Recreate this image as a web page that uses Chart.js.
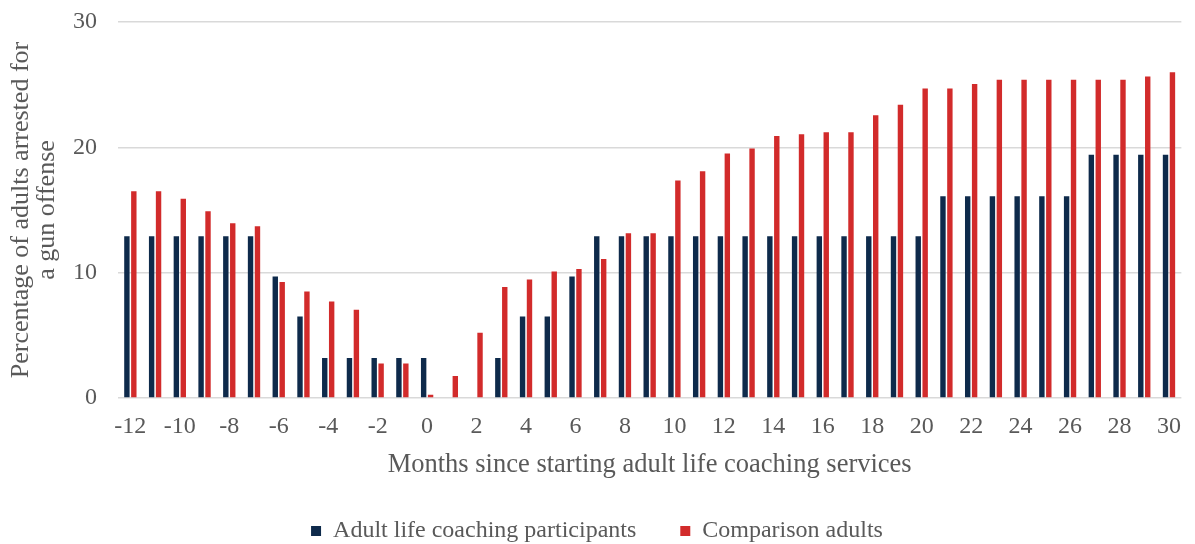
<!DOCTYPE html>
<html>
<head>
<meta charset="utf-8">
<script src="https://cdn.jsdelivr.net/npm/chart.js@4"></script>
<style>
  html, body { margin: 0; padding: 0; background: #fff; }
  #wrap { width: 1195px; height: 544px; }
</style>
</head>
<body>
<div id="wrap"><canvas id="chart" width="1195" height="544"></canvas></div>
<script>
// months since start, -12 .. 30
const months = [-12, -11, -10, -9, -8, -7, -6, -5, -4, -3, -2, -1, 0, 1, 2, 3, 4, 5, 6, 7, 8,
  9, 10, 11, 12, 13, 14, 15, 16, 17, 18, 19, 20, 21, 22, 23, 24, 25, 26, 27, 28, 29, 30];

// percentages
const participants = [12.9, 12.9, 12.9, 12.9, 12.9, 12.9, 9.7, 6.5, 3.2, 3.2, 3.2, 3.2, 3.2, 0, 0,
  3.2, 6.5, 6.5, 9.7, 12.9, 12.9, 12.9, 12.9, 12.9, 12.9, 12.9, 12.9, 12.9, 12.9, 12.9, 12.9,
  12.9, 12.9, 16.1, 16.1, 16.1, 16.1, 16.1, 16.1, 19.4, 19.4, 19.4, 19.4];
const comparison = [16.5, 16.5, 15.9, 14.9, 13.95, 13.7, 9.25, 8.5, 7.7, 7.05, 2.75, 2.75, 0.25,
  1.75, 5.2, 8.85, 9.45, 10.1, 10.3, 11.1, 13.15, 13.15, 17.35, 18.1, 19.5, 19.9, 20.9, 21.05,
  21.2, 21.2, 22.55, 23.4, 24.7, 24.7, 25.05, 25.4, 25.4, 25.4, 25.4, 25.4, 25.4, 25.65, 26.0];

const yTicks = [0, 10, 20, 30];

const grey = '#595959';
const font = 'Liberation Serif';

new Chart(document.getElementById('chart').getContext('2d'), {
  type: 'bar',
  data: {
    labels: months,
    datasets: [
      {
        label: 'Adult life coaching participants',
        data: participants,
        backgroundColor: '#0e2a4b',
        categoryPercentage: 0.56,
        barPercentage: 0.78
      },
      {
        label: 'Comparison adults',
        data: comparison,
        backgroundColor: '#d22b2b',
        categoryPercentage: 0.56,
        barPercentage: 0.78
      }
    ]
  },
  options: {
    responsive: false,
    animation: false,
    layout: { padding: { left: 0, right: 1, top: 0, bottom: -9 } },
    scales: {
      x: {
        grid: { display: false, drawTicks: false },
        border: { display: false },
        afterFit: function (scale) {
          scale.height = 101;
        },
        ticks: {
          autoSkip: false,
          maxRotation: 0,
          color: grey,
          font: { family: font, size: 24 },
          padding: 14,
          callback: function (val, i) {
            return i % 2 === 0 ? months[i] : '';
          }
        },
        title: {
          display: true,
          text: 'Months since starting adult life coaching services',
          color: grey,
          font: { family: font, size: 26.5 },
          padding: { top: 9, bottom: 18 }
        }
      },
      y: {
        min: 0,
        max: 30,
        afterBuildTicks: function (axis) {
          axis.ticks = yTicks.map(v => ({ value: v }));
        },
        afterFit: function (scale) {
          scale.width = 118;
          scale.paddingTop = 22;
          scale.paddingBottom = 0;
        },
        grid: { color: '#d9d9d9', lineWidth: 1.5, drawTicks: false },
        border: { display: false },
        ticks: {
          color: grey,
          font: { family: font, size: 24 },
          padding: 21
        },
        title: {
          display: true,
          text: ['Percentage of adults arrested for', 'a gun offense'],
          color: grey,
          font: { family: font, size: 26, lineHeight: 1.0 },
          padding: { top: 8, bottom: 0 }
        }
      }
    },
    plugins: {
      legend: {
        position: 'bottom',
        labels: {
          color: grey,
          font: { family: font, size: 24 },
          boxWidth: 10,
          boxHeight: 10,
          padding: 20,
          generateLabels: function (chart) {
            const items = Chart.defaults.plugins.legend.labels.generateLabels(chart);
            // widen the gap between the two entries
            items[0].text = items[0].text + '    ';
            return items;
          }
        }
      },
      tooltip: { enabled: false }
    }
  }
});
</script>
</body>
</html>
